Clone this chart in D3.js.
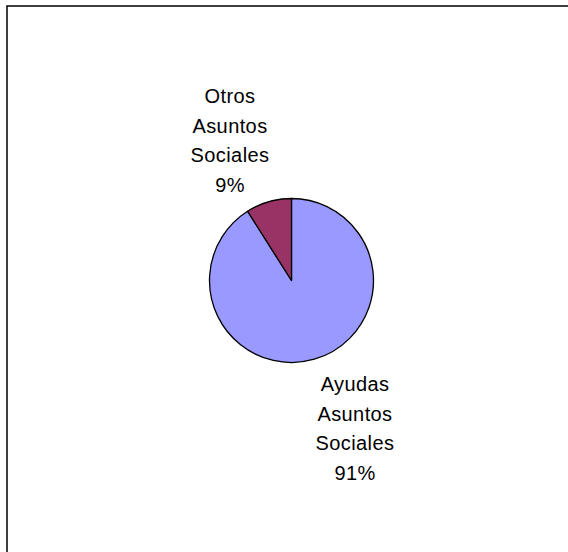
<!DOCTYPE html>
<html>
<head>
<meta charset="utf-8">
<script src="https://cdn.jsdelivr.net/npm/d3@7"></script>
<style>
  body{margin:0;background:#fff;}
  text{font-family:"Liberation Sans",Arial,sans-serif;}
</style>
</head>
<body>
<div id="chart"></div>
<script>
const categories = ["Ayudas Asuntos Sociales", "Otros Asuntos Sociales"];
const values = [91, 9];
const labelLines = [["Ayudas","Asuntos","Sociales","91%"], ["Otros","Asuntos","Sociales","9%"]];
const colors = ["#9999FF", "#993366"];

const W = 568, H = 552;
const cx = 291.5, cy = 280.5, r = 82;
// label block centres, relative to the pie centre
const labelPos = [{x:63.5, y:148}, {x:-61.5, y:-140}];

const svg = d3.select("#chart")
  .append("svg")
  .attr("width",W)
  .attr("height",H);

svg.append("rect")
  .attr("width",W).attr("height",H)
  .attr("fill","#fff");

// chart area border (right/bottom edges fall outside the picture)
svg.append("path")
  .attr("d",`M7,${H} V6 H${W}`)
  .attr("fill","none")
  .attr("stroke","#000")
  .attr("stroke-width",1.5);

const pie = d3.pie().sort(null).value(d => d)
  .startAngle(0).endAngle(2*Math.PI);
const arc = d3.arc().innerRadius(0).outerRadius(r);

const g = svg.append("g")
  .attr("transform",`translate(${cx},${cy})`);

g.selectAll("path.slice")
  .data(pie(values))
  .join("path")
  .attr("class","slice")
  .attr("d",arc)
  .attr("fill",(d,i) => colors[i])
  .attr("stroke","#000")
  .attr("stroke-width",1.3)
  .attr("stroke-linejoin","round");

const lh = 29.5;
labelLines.forEach((lines,i) => {
  const t = g.append("text")
    .attr("text-anchor","middle")
    .attr("font-size","20px")
    .attr("letter-spacing","0.4px")
    .attr("fill","#000");
  lines.forEach((s,j) => {
    t.append("tspan")
      .attr("x",labelPos[i].x)
      .attr("y",labelPos[i].y + (j - (lines.length-1)/2)*lh + 7)
      .text(s);
  });
});
</script>
</body>
</html>
